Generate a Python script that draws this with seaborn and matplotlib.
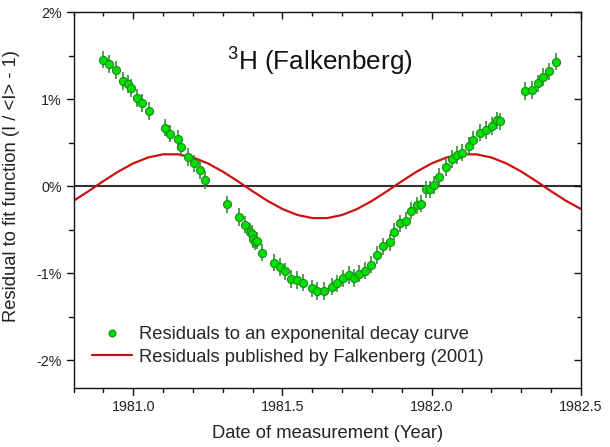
import matplotlib
matplotlib.use("Agg")
import matplotlib.pyplot as plt
import matplotlib.lines as mlines
import seaborn as sns
import pandas as pd
from matplotlib.ticker import MultipleLocator, FixedLocator, FuncFormatter

# ---- data ----
years = [1980.900, 1980.918, 1980.943, 1980.967, 1980.982, 1980.992, 1981.013, 1981.030,
         1981.052, 1981.106, 1981.124, 1981.151, 1981.161, 1981.185, 1981.203, 1981.223,
         1981.241, 1981.315, 1981.354, 1981.376, 1981.391, 1981.397, 1981.402, 1981.409,
         1981.416, 1981.430, 1981.473, 1981.491, 1981.509, 1981.529, 1981.549, 1981.569,
         1981.598, 1981.616, 1981.640, 1981.666, 1981.682, 1981.702, 1981.723, 1981.738,
         1981.758, 1981.777, 1981.797, 1981.816, 1981.836, 1981.859, 1981.875, 1981.895,
         1981.913, 1981.932, 1981.951, 1981.963, 1981.981, 1981.994, 1982.009, 1982.026,
         1982.047, 1982.067, 1982.084, 1982.103, 1982.125, 1982.139, 1982.162, 1982.182,
         1982.201, 1982.218, 1982.230, 1982.312, 1982.335, 1982.356, 1982.374, 1982.394,
         1982.415]
residuals = [1.452, 1.402, 1.332, 1.210, 1.175, 1.129, 1.014, 0.953,
             0.864, 0.673, 0.604, 0.546, 0.454, 0.334, 0.262, 0.184,
             0.069, -0.207, -0.353, -0.441, -0.525, -0.545, -0.606, -0.637,
             -0.626, -0.764, -0.876, -0.927, -0.979, -1.063, -1.075, -1.106,
             -1.173, -1.203, -1.204, -1.152, -1.115, -1.058, -1.017, -1.054,
             -1.003, -0.968, -0.902, -0.790, -0.691, -0.645, -0.522, -0.426,
             -0.395, -0.280, -0.219, -0.199, -0.035, -0.035, 0.012, 0.104,
             0.215, 0.311, 0.357, 0.385, 0.461, 0.529, 0.616, 0.644,
             0.690, 0.755, 0.745, 1.091, 1.106, 1.180, 1.256, 1.318,
             1.429]
residual_err = 0.10

falk_years = [1980.80, 1980.85, 1980.90, 1980.95, 1981.00, 1981.05, 1981.10, 1981.15,
              1981.20, 1981.25, 1981.30, 1981.35, 1981.40, 1981.45, 1981.50, 1981.55,
              1981.60, 1981.65, 1981.70, 1981.75, 1981.80, 1981.85, 1981.90, 1981.95,
              1982.00, 1982.05, 1982.10, 1982.15, 1982.20, 1982.25, 1982.30, 1982.35,
              1982.40, 1982.45, 1982.50]
falk_values = [-0.168, -0.058, 0.058, 0.168, 0.262, 0.330, 0.366, 0.366,
               0.330, 0.262, 0.168, 0.058, -0.058, -0.168, -0.262, -0.330,
               -0.366, -0.366, -0.330, -0.262, -0.168, -0.058, 0.058, 0.168,
               0.262, 0.330, 0.366, 0.366, 0.330, 0.262, 0.168, 0.058,
               -0.058, -0.168, -0.262]

x_ticks = [1981.0, 1981.5, 1982.0, 1982.5]
y_ticks = [-2, -1, 0, 1, 2]
title_text = r"$\mathregular{^3}$H (Falkenberg)"
label_points = "Residuals to an exponenital decay curve"
label_line = "Residuals published by Falkenberg (2001)"
xlabel = "Date of measurement (Year)"
ylabel = "Residual to fit function (I / <I> - 1)"

# ---- style ----
sns.set_theme(style="ticks")
plt.rcParams["font.family"] = ["Liberation Sans", "DejaVu Sans"]
plt.rcParams["mathtext.fontset"] = "custom"
plt.rcParams["mathtext.rm"] = "Liberation Sans"
plt.rcParams["axes.unicode_minus"] = False

TICK_COLOR = "#111111"
MAJ_LEN, MIN_LEN = 5, 3          # points
FIG_W, FIG_H, DPI = 6.10, 4.47, 100
XLIM, YLIM = (1980.8, 1982.5), (-2.32, 2.0)

fig = plt.figure(figsize=(FIG_W, FIG_H), dpi=DPI)
ax = fig.add_axes([73.5 / 610, (447 - 388.3) / 447, 507.5 / 610, 376.3 / 447])

df_pts = pd.DataFrame({"year": years, "res": residuals})
df_line = pd.DataFrame({"year": falk_years, "res": falk_values})

ax.axhline(0, color="#333333", lw=1.5, zorder=1)
sns.lineplot(data=df_line, x="year", y="res", ax=ax, color="#cc1111", lw=1.6,
             zorder=2, legend=False)
ax.errorbar(years, residuals, yerr=residual_err, fmt="none", ecolor="#2f922f",
            elinewidth=1.4, alpha=0.85, zorder=3)
sns.scatterplot(data=df_pts, x="year", y="res", ax=ax, color="#00e000",
                edgecolor="#1e8a1e", linewidth=0.8, s=34, zorder=4, legend=False)

ax.set_xlim(*XLIM)
ax.set_ylim(*YLIM)
ax.xaxis.set_major_locator(FixedLocator(x_ticks))
ax.xaxis.set_minor_locator(MultipleLocator(0.1))
ax.yaxis.set_major_locator(FixedLocator(y_ticks))
ax.yaxis.set_minor_locator(MultipleLocator(0.5))
ax.xaxis.set_major_formatter(FuncFormatter(lambda v, p: f"{v:.1f}"))
ax.yaxis.set_major_formatter(FuncFormatter(lambda v, p: f"{v:.0f}%"))
ax.tick_params(axis="both", which="both", bottom=True, left=True, top=False, right=False,
               length=0)
ax.tick_params(axis="both", which="major", pad=3.5 + MAJ_LEN, labelsize=10.3,
               labelcolor="#222222")
for s in ax.spines.values():
    s.set_visible(True)
    s.set_color("#111111")
    s.set_linewidth(1.0)

xmaj = list(ax.xaxis.get_majorticklocs())
xmin = [v for v in ax.xaxis.get_minorticklocs() if XLIM[0] - 1e-9 <= v <= XLIM[1] + 1e-9]
ymaj = list(ax.yaxis.get_majorticklocs())
ymin = [v for v in ax.yaxis.get_minorticklocs() if YLIM[0] <= v <= YLIM[1] + 1e-9]

# inward ticks (top / right) as markers inside the frame
xt = ax.get_xaxis_transform()
yt = ax.get_yaxis_transform()
for locs, size in ((xmaj, MAJ_LEN), (xmin, MIN_LEN)):
    ax.plot(locs, [1] * len(locs), ls="none", marker=mlines.TICKDOWN, markersize=size,
            mew=1.0, color=TICK_COLOR, transform=xt, clip_on=False, zorder=6)
for locs, size in ((ymaj, MAJ_LEN), (ymin, MIN_LEN)):
    ax.plot([1] * len(locs), locs, ls="none", marker=mlines.TICKLEFT, markersize=size,
            mew=1.0, color=TICK_COLOR, transform=yt, clip_on=False, zorder=6)
ax.set_xlim(*XLIM)
ax.set_ylim(*YLIM)

# outward ticks (bottom / left) as figure-level segments
to_fig = ax.transData + fig.transFigure.inverted()
pt_w = 1.0 / 72 / FIG_W   # one point as a figure fraction (horizontal)
pt_h = 1.0 / 72 / FIG_H   # one point as a figure fraction (vertical)
for locs, size in ((xmaj, MAJ_LEN), (xmin, MIN_LEN)):
    for v in locs:
        fx, fy = to_fig.transform((v, YLIM[0]))
        fig.add_artist(mlines.Line2D([fx, fx], [fy, fy - size * pt_h], color=TICK_COLOR,
                                     lw=1.0, transform=fig.transFigure))
for locs, size in ((ymaj, MAJ_LEN), (ymin, MIN_LEN)):
    for v in locs:
        fx, fy = to_fig.transform((XLIM[0], v))
        fig.add_artist(mlines.Line2D([fx, fx - size * pt_w], [fy, fy], color=TICK_COLOR,
                                     lw=1.0, transform=fig.transFigure))

ax.set_xlabel(xlabel, fontsize=13.2, color="#222222", labelpad=8)
ax.set_ylabel(ylabel, fontsize=13.2, color="#222222")
ax.yaxis.set_label_coords(-0.105, 0.538)

ax.text(0.486, 0.868, title_text, transform=ax.transAxes, ha="center", va="center",
        fontsize=18.8, color="#111111")

h_pts = mlines.Line2D([], [], ls="none", marker="o", markersize=5,
                      markerfacecolor="#00e000", markeredgecolor="#1e8a1e",
                      markeredgewidth=0.8)
h_line = mlines.Line2D([], [], color="#cc1111", lw=1.6)
ax.legend([h_pts, h_line], [label_points, label_line], loc="upper left",
          bbox_to_anchor=(0.036, 0.165), frameon=False, fontsize=13.2,
          handlelength=2.2, handletextpad=0.4, labelspacing=0.3,
          borderaxespad=0, borderpad=0)

fig.savefig("out.png", dpi=DPI)
